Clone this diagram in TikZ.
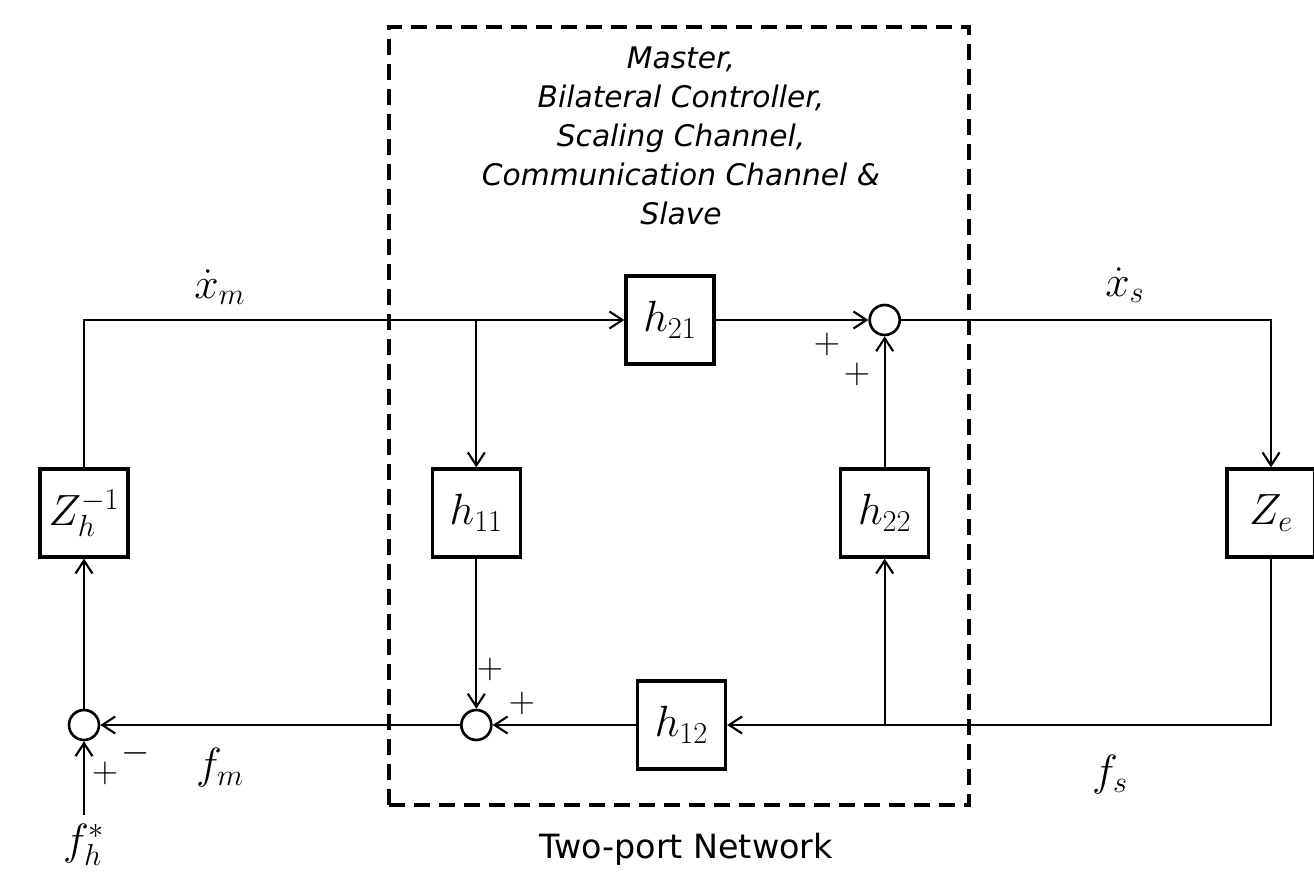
\documentclass[tikz,border=0pt]{standalone}
\usepackage{fontspec}
\newfontfamily\tahoma{DejaVu Sans}
\usetikzlibrary{positioning, arrows.meta}

\begin{document}
\begin{tikzpicture}[
    , line width = 1.2pt
    , > = {Straight Barb[length = 2.6mm, width = 3.4mm]}
    , blk/.style = {
      , draw
      , line width = 1.9pt
      , minimum width = 17.6mm
      , minimum height = 17.6mm
      , inner sep = 0pt
      , font = \fontsize{24}{28}\selectfont
    }
    , sum/.style = {
      , draw
      , circle
      , line width = 1.5pt
      , minimum size = 6mm
      , inner sep = 0pt
    }
    , sig/.style = {font = \fontsize{23}{26}\selectfont}
    , sgn/.style = {font = \fontsize{22}{24}\selectfont, inner sep = 0pt}
  ]
    \useasboundingbox (0,0) rectangle (26.28,17.6);

    % two-port frame
    \draw [line width = 2.3pt, dash pattern = on 3.2mm off 1.8mm]
      (7.78,1.5) rectangle (19.38,17.06);
    \node (desc) [anchor = north, align = center, inner sep = 0pt,
      font = \tahoma\itshape\fontsize{16.9}{22.2}\selectfont] at (13.62,16.68)
      {Master,\\Bilateral Controller,\\Scaling Channel,\\Communication Channel \&\\Slave};
    \node (tpn) [anchor = base, font = \tahoma\fontsize{19}{22}\selectfont]
      at (13.72,0.44) {Two-port Network};

    % blocks
    \node (zh) [blk] at (1.68,7.34) {$Z_h^{-1}$};
    \node (h11) [blk, right = 6.02cm of zh] {$h_{11}$};
    \node (h22) [blk, right = 6.34cm of h11] {$h_{22}$};
    \node (ze) [blk, right = 5.9cm of h22] {$Z_e$};
    \node (h21) [blk] at (13.40,11.20) {$h_{21}$};
    \node (h12) [blk] at (13.63,3.10) {$h_{12}$};

    % summing points
    \node (s2) [sum] at (h22 |- h21) {};
    \node (s1) [sum] at (h11 |- h12) {};
    \node (s0) [sum] at (zh |- s1) {};
    \coordinate [below = 14.8mm of s0.south] (fin);

    % connectors
    \draw [->] (zh.north) |- (h21.west);
    \draw [->] (h11.north |- h21.west) -- (h11.north);
    \draw [->] (h21) -- (s2);
    \draw [->] (s2.east) -| (ze.north);
    \draw [->] (ze.south) |- (h12.east);
    \draw [->] (h22.south |- h12.east) -- (h22.south);
    \draw [->] (h22) -- (s2);
    \draw [->] (h12) -- (s1);
    \draw [->] (h11) -- (s1);
    \draw [->] (s1) -- (s0);
    \draw [->] (s0) -- (zh);
    \draw [->] (fin) -- (s0);

    % signals
    \node (xm) [sig] at (4.4,11.86) {$\dot{x}_m$};
    \node (xs) [sig] at (22.5,11.9) {$\dot{x}_s$};
    \node (fm) [sig] at (4.4,2.24) {$f_m$};
    \node (fs) [sig] at (22.2,2.1) {$f_s$};
    \node (fh) [sig, below = 1pt of fin] {$f_h^*$};

    % signs
    \node (p1) [sgn] at (16.54,10.72) {$+$};
    \node (p2) [sgn] at (17.14,10.12) {$+$};
    \node (p3) [sgn] at (9.80,4.22) {$+$};
    \node (p4) [sgn] at (10.44,3.54) {$+$};
    \node (p5) [sgn] at (2.10,2.14) {$+$};
    \node (m1) [sgn] at (2.72,2.54) {$-$};
  \end{tikzpicture}
\end{document}
